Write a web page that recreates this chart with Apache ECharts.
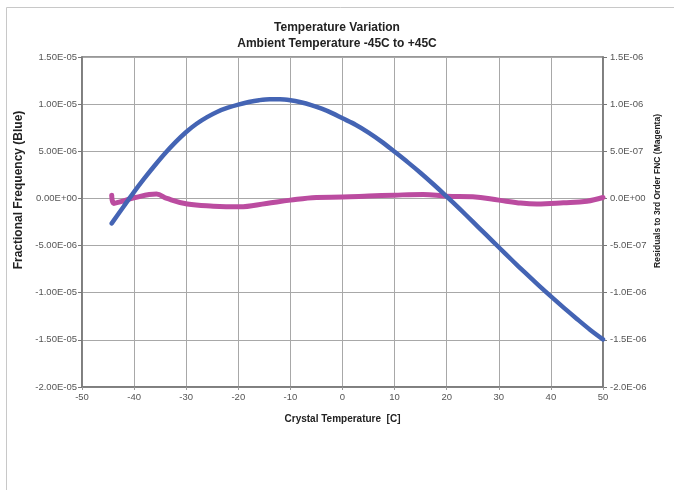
<!DOCTYPE html>
<html>
<head>
<meta charset="utf-8">
<script src="https://cdn.jsdelivr.net/npm/echarts@6/dist/echarts.min.js"></script>
<style>html,body{margin:0;padding:0;background:#fff;}#c{width:674px;height:490px;}</style>
</head>
<body>
<div id="c"></div>
<script>
const titleLines = ['Temperature Variation', 'Ambient Temperature -45C to +45C'];
const xAxisName = 'Crystal Temperature  [C]';
const leftAxisName = 'Fractional Frequency (Blue)';
const rightAxisName = 'Residuals to 3rd Order FNC (Magenta)';

// Blue: fractional frequency vs crystal temperature (values in 1e-6)
const blueTemp = [-44.3, -42, -40, -38, -36, -34, -32, -30, -28, -26, -24, -22, -20, -18, -16, -14, -12, -10, -8, -6, -4, -2, 0, 2.5, 5, 7.5, 10, 12.5, 15, 17.5, 20, 22.5, 25, 27.5, 30, 32.5, 35, 37.5, 40, 42.5, 45, 47.5, 50];
const blueFreqE6 = [-2.65, -0.85, 0.70, 2.15, 3.52, 4.82, 6.0, 7.05, 7.92, 8.62, 9.2, 9.62, 9.95, 10.22, 10.42, 10.53, 10.53, 10.42, 10.2, 9.9, 9.52, 9.05, 8.5, 7.82, 6.99, 6.03, 4.95, 3.85, 2.70, 1.475, 0.2, -1.11, -2.46, -3.82, -5.18, -6.53, -7.855, -9.145, -10.395, -11.605, -12.78, -13.92, -14.95];

// Magenta: residuals to 3rd order fit (values in 1e-6)
const magTemp = [-44.3, -43.9, -42.7, -39.8, -35.7, -33.7, -29.8, -24.8, -19.8, -14.6, -10, -5, 0, 5, 10, 15.5, 20, 25, 30, 33.5, 37.3, 42.4, 46.9, 50];
const magResidE6 = [0.035, -0.053, -0.036, 0.01, 0.046, 0.0, -0.06, -0.082, -0.089, -0.053, -0.018, 0.01, 0.015, 0.025, 0.035, 0.042, 0.024, 0.017, -0.018, -0.045, -0.06, -0.047, -0.029, 0.01];

function fmtExp(v, digits) {
  if (Math.abs(v) < 1e-15) return (0).toFixed(digits) + 'E+00';
  const s = v.toExponential(digits);
  const m = s.split('e');
  let e = parseInt(m[1], 10);
  const sign = e < 0 ? '-' : '+';
  e = Math.abs(e);
  return m[0] + 'E' + sign + (e < 10 ? '0' + e : '' + e);
}

const FONT = "'Liberation Sans', Arial, sans-serif";

const chart = echarts.init(document.getElementById('c'), null, {renderer: 'canvas'});
chart.setOption({
  animation: false,
  backgroundColor: '#fff',
  title: {
    text: titleLines.join('\n'),
    left: 'center', top: 15,
    textStyle: {fontFamily: FONT, fontWeight: 'bold', fontSize: 12, color: '#222', lineHeight: 16}
  },
  graphic: [
    {type: 'line', silent: true, shape: {x1: 6.5, y1: 7.5, x2: 674, y2: 7.5}, style: {stroke: '#c8c8c8', lineWidth: 1}},
    {type: 'line', silent: true, shape: {x1: 6.5, y1: 7.5, x2: 6.5, y2: 490}, style: {stroke: '#c8c8c8', lineWidth: 1}},
    {type: 'text', silent: true, x: 19, y: 190, rotation: Math.PI / 2,
     style: {text: leftAxisName, font: "bold 12px 'Liberation Sans', Arial, sans-serif", fill: '#222', align: 'center', verticalAlign: 'middle'}},
    {type: 'text', silent: true, x: 658, y: 191, rotation: Math.PI / 2,
     style: {text: rightAxisName, font: "bold 8.5px 'Liberation Sans', Arial, sans-serif", fill: '#222', align: 'center', verticalAlign: 'middle'}}
  ],
  grid: {left: 82, right: 71, top: 57, bottom: 103, show: true, borderColor: '#777', borderWidth: 1.5, backgroundColor: '#fff'},
  xAxis: {
    type: 'value', min: -50, max: 50, interval: 10,
    name: xAxisName, nameLocation: 'middle', nameGap: 27,
    nameTextStyle: {fontFamily: FONT, fontWeight: 'bold', fontSize: 10, color: '#222'},
    axisLine: {show: true, onZero: false, lineStyle: {color: '#777', width: 1.5}},
    axisTick: {show: true, length: 3, lineStyle: {color: '#999'}},
    axisLabel: {fontFamily: FONT, fontSize: 9.5, color: '#555', margin: 5},
    splitLine: {show: true, lineStyle: {color: '#a8a8a8', width: 1}}
  },
  yAxis: [
    {
      type: 'value', min: -2e-5, max: 1.5e-5, interval: 5e-6, position: 'left',
      axisLine: {show: true, onZero: false, lineStyle: {color: '#777', width: 1.5}},
      axisTick: {show: true, length: 4, lineStyle: {color: '#777'}},
      axisLabel: {fontFamily: FONT, fontSize: 9.5, color: '#555', margin: 5, formatter: v => fmtExp(v, 2)},
      splitLine: {show: true, lineStyle: {color: '#a8a8a8', width: 1}}
    },
    {
      type: 'value', min: -2e-6, max: 1.5e-6, interval: 5e-7, position: 'right',
      axisLine: {show: true, onZero: false, lineStyle: {color: '#777', width: 1.5}},
      axisTick: {show: true, length: 4, lineStyle: {color: '#777'}},
      axisLabel: {fontFamily: FONT, fontSize: 9.5, color: '#555', margin: 7, formatter: v => fmtExp(v, 1)},
      splitLine: {show: false}
    }
  ],
  series: [
    {
      type: 'line', name: 'Blue', yAxisIndex: 0, smooth: 0.3, showSymbol: false,
      data: blueTemp.map((t, i) => [t, blueFreqE6[i] * 1e-6]),
      lineStyle: {color: '#4464b4', width: 4.5, cap: 'round', join: 'round'}, z: 3
    },
    {
      type: 'line', name: 'Magenta', yAxisIndex: 1, smooth: 0.4, showSymbol: false,
      data: magTemp.map((t, i) => [t, magResidE6[i] * 1e-6]),
      lineStyle: {color: '#bb4ca0', width: 5, cap: 'round', join: 'round'}, z: 2
    }
  ]
});
</script>
</body>
</html>
